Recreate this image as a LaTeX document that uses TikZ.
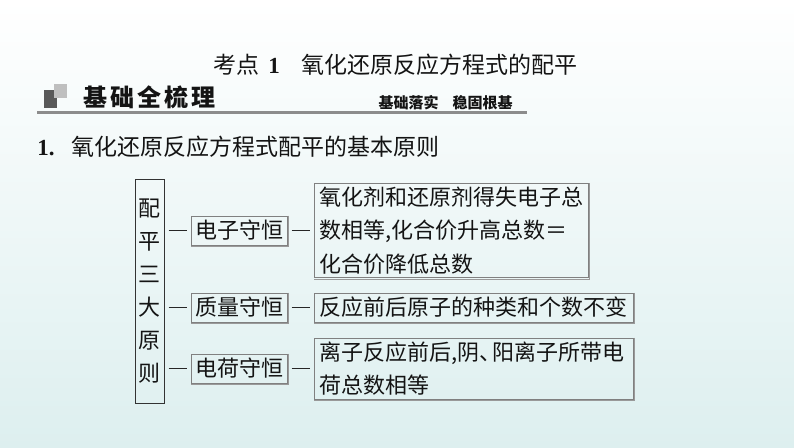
\documentclass[tikz,border=0pt]{standalone}
\usepackage{fontspec}
\setmainfont{Liberation Serif}
\newfontfamily\cjk{Noto Sans CJK SC}
\usetikzlibrary{positioning}

\begin{document}
\begin{tikzpicture}[x=1pt,y=-1pt,semithick,
      txt/.style={inner sep=0pt,text=black!92,font=\cjk\fontsize{23}{23}\selectfont},
      box/.style={draw=black!50,line width=1pt,inner xsep=5pt,inner ysep=0pt,
        text=black!92,font=\cjk\fontsize{22}{33.5}\selectfont},
      conn/.style={draw=black!85,line width=1.2pt,shorten <=4pt,shorten >=3.5pt}]
			\shade[top color=white,bottom color={rgb,255:red,221;green,239;blue,239}]
				(0,0) rectangle (794,447);
			\useasboundingbox (0,0) rectangle (794,447);
			\fill[black!65] (44,90) rectangle (57,108);
			\fill[black!25] (54,84) rectangle (67,98);
			\draw[line width=3pt,black!45] (37,112) -- (527,112);
			\node[txt,anchor=west] (kd) at (213,65) {考点\hspace{9pt}{\rmfamily\bfseries 1}\hspace{22pt}氧化还原反应方程式的配平};
			\node[txt,anchor=west,font=\cjk\bfseries\fontsize{24}{24}\selectfont] (jc) at (83,97)
				{基\kern3pt 础\kern3pt 全\kern3pt 梳\kern3pt 理};
			\node[txt,anchor=east,font=\cjk\bfseries\fontsize{15}{15}\selectfont] (lx) at (513,102.5)
				{基础落实\hspace{14pt}稳固根基};
			\node[txt,anchor=west] (bt) at (37,147) {{\rmfamily\bfseries 1.}\hspace{17pt}氧化还原反应方程式配平的基本原则};
			\node[box,draw=black!80,minimum width=29pt,minimum height=224pt,inner xsep=0pt,align=center,
				font=\cjk\fontsize{22}{33}\selectfont] (pz) at (149.5,291) {配\\平\\三\\大\\原\\则};
			\node[box,minimum width=96pt,minimum height=29pt,inner xsep=0pt] (dz) at (239,230.5) {电子守恒};
			\node[box,minimum width=96pt,minimum height=29pt,inner xsep=0pt] (zl) at (239,307.5) {质量守恒};
			\node[box,minimum width=96pt,minimum height=29pt,inner xsep=0pt] (dh) at (239,368.5) {电荷守恒};
			\node[box,text width=264pt,minimum height=94pt,align=left] (r1) at (451,230.5)
				{氧化剂和还原剂得失电子总\\数相等,化合价升高总数＝\\化合价降低总数};
			\node[box,text width=309pt,minimum height=29pt,align=left] (r2) at (473.5,307.5)
				{反应前后原子的种类和个数不变};
			\node[box,text width=309pt,minimum height=61pt,align=left] (r3) at (473.5,368.5)
				{离子反应前后,阴、\kern-9pt 阳离子所带电\\荷总数相等};
			\foreach \n in {dz,zl,dh,r1,r2,r3}
				\draw[black!40,line width=1pt] ([xshift=1.2pt]\n.north east) -- ([shift={(1.2pt,-1.2pt)}]\n.south east)
					-- ([yshift=-1.2pt]\n.south west);
			\path
				(pz.east |- dz) edge[conn] (dz)
				(pz.east |- zl) edge[conn] (zl)
				(pz.east |- dh) edge[conn] (dh)
				(dz) edge[conn] (r1)
				(zl) edge[conn] (r2)
				(dh) edge[conn] (r3);
		\end{tikzpicture}
\end{document}
